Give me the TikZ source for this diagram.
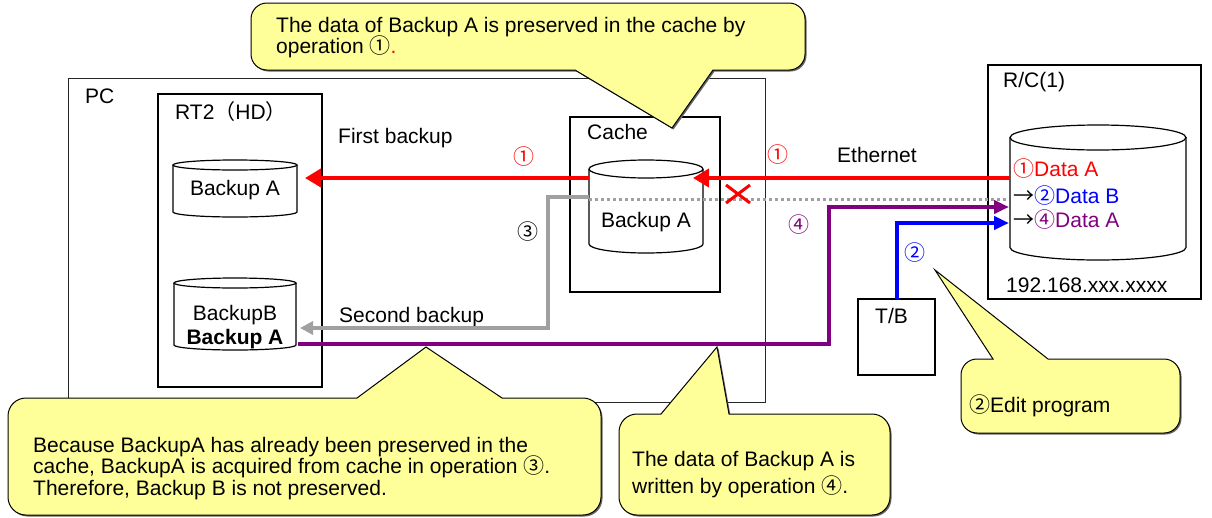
\documentclass[tikz,border=0pt]{standalone}
\usepackage{fontspec}
\setmainfont{Liberation Sans}
\newfontfamily\cjk{Noto Sans CJK JP}
\usetikzlibrary{arrows.meta}
\definecolor{cyel}{RGB}{255,255,153}
\definecolor{cpur}{RGB}{128,0,128}
\definecolor{cgray}{RGB}{160,160,160}
\newcommand\cd[1]{{\cjk #1}}
\newcommand\fs{\fontsize{21}{22}\selectfont}
% drum: x1 ytop x2 ybot ry (pixel units, y downwards)
\newcommand\drum[5]{%
  \draw[drumline,fill=white] (#1,{-#2-#5}) -- (#1,{-#4+#5}) arc[start angle=180,end angle=360,x radius={(#3-#1)/2},y radius=#5] -- (#3,{-#2-#5});
  \draw[drumline] ({(#1+#3)/2},{-#2-#5}) ellipse[x radius={(#3-#1)/2},y radius=#5];
}
% bubble with pointer from top edge: x1 y1 x2 y2 b1 b2 tx ty r
\newcommand\bubbleUp[9]{%
  \foreach \sh/\sty in {1.5/bubshadow,0/bubble}{%
    \path[\sty,shift={(\sh,-\sh)}] (#1+#9,-#2) -- (#5,-#2) -- (#7,-#8) -- (#6,-#2) -- (#3-#9,-#2)
      arc[start angle=90,end angle=0,radius=#9] -- (#3,-#4+#9)
      arc[start angle=0,end angle=-90,radius=#9] -- (#1+#9,-#4)
      arc[start angle=-90,end angle=-180,radius=#9] -- (#1,-#2-#9)
      arc[start angle=180,end angle=90,radius=#9] -- cycle;
  }%
}
% bubble with pointer from bottom edge
\newcommand\bubbleDown[9]{%
  \foreach \sh/\sty in {1.5/bubshadow,0/bubble}{%
    \path[\sty,shift={(\sh,-\sh)}] (#1+#9,-#2) -- (#3-#9,-#2)
      arc[start angle=90,end angle=0,radius=#9] -- (#3,-#4+#9)
      arc[start angle=0,end angle=-90,radius=#9] -- (#6,-#4) -- (#7,-#8) -- (#5,-#4) -- (#1+#9,-#4)
      arc[start angle=-90,end angle=-180,radius=#9] -- (#1,-#2-#9)
      arc[start angle=180,end angle=90,radius=#9] -- cycle;
  }%
}
\begin{document}
\begin{tikzpicture}[x=1pt,y=1pt,
  every node/.style={inner sep=0pt,font=\fs},
  boxline/.style={draw=black,line width=1.3pt},
  drumline/.style={draw=black,line width=1.2pt},
  bubble/.style={fill=cyel,draw=black,line width=1pt},
  bubshadow/.style={fill=black!60},
  redarrow/.style={draw=red,line width=4.5pt,-{Triangle[length=16pt,width=18pt]}},
  grayarrow/.style={draw=cgray,line width=3.5pt,-{Triangle[length=13pt,width=13pt]}},
  dotline/.style={draw=cgray,line width=3pt,dash pattern=on 3pt off 3pt},
  purarrow/.style={draw=cpur,line width=4pt,-{Triangle[length=15pt,width=13pt]}},
  bluearrow/.style={draw=blue,line width=4pt,-{Triangle[length=15pt,width=13pt]}},
  lbl/.style={anchor=base west},
  clbl/.style={anchor=base}]
\useasboundingbox[fill=white] (0,0) rectangle (1212,-517);

% PC
\draw[draw=black!85,line width=1pt] (68,-78) rectangle (765,-402);
\node[lbl] (pc) at (85,-103.5) {PC};

% RT2(HD)
\draw[boxline] (158,-94) rectangle (322,-387);
\node[lbl] (rt2) at (175,-119.5) {RT2\cd{（}HD\cd{）}};
\drum{173}{160}{297}{217}{5}
\node[clbl] (bkA) at (235,-195.5) {Backup A};
\drum{174}{278}{296}{350}{5}
\node[clbl] (bkB) at (235,-320.5) {BackupB};
\node[clbl,font=\fs\bfseries] (bkAb) at (235,-344.5) {Backup A};

\node[lbl] (fb) at (338,-143.5) {First backup};
\node[lbl] (sb) at (339,-322.5) {Second backup};

% Cache
\draw[boxline] (570,-117) rectangle (720,-292);
\node[lbl] (cache) at (587,-139.5) {Cache};
\drum{589}{160}{703}{253}{9}
\node[clbl] (cbk) at (646,-227.5) {Backup A};

% R/C(1)
\draw[boxline] (988,-65) rectangle (1201,-299);
\node[lbl] (rc) at (1003,-87.5) {R/C(1)};
\drum{1010}{125}{1186}{260}{12.5}
\node[lbl,text=red] (d1) at (1013,-176.5) {\cd{①}Data A};
\node[lbl] (d2) at (1013,-203.5) {\cd{→}\textcolor{blue}{\cd{②}Data B}};
\node[lbl] (d3) at (1013,-227.5) {\cd{→}\textcolor{cpur}{\cd{④}Data A}};
\node[lbl] (ip) at (1006,-292.5) {192.168.xxx.xxxx};

% T/B
\draw[boxline] (858,-299) rectangle (935,-375);
\node[lbl] (tb) at (875,-323.5) {T/B};

% connector end points
\coordinate (rcR) at (1010,-178);
\coordinate (cacheR) at (693,-178);
\coordinate (cacheL) at (589,-178);
\coordinate (hdA) at (305,-178);
\coordinate (cacheG) at (589,-197);
\coordinate (hdB) at (300,-328);
\coordinate (cacheD) at (589,-199);
\coordinate (rcD) at (1008,-199);
\coordinate (hdP) at (298,-344);
\coordinate (rcP) at (1009,-207);
\coordinate (tbT) at (897,-299);
\coordinate (rcB) at (1009,-223);
\coordinate (xmark) at (738,-194);

% connectors
\draw[dotline] (cacheD) -- (rcD);
\draw[redarrow] (rcR) -- (cacheR);
\draw[redarrow] (cacheL) -- (hdA);
\draw[grayarrow] (cacheG) -- ++(-41,0) |- (hdB);
\draw[purarrow] (hdP) -| (829,-207) -- (rcP);
\draw[bluearrow] (tbT) |- (rcB);
\draw[red,line width=3pt,shift={(xmark)}] (-12,9) -- (12,-9) (-12,-9) -- (12,9);

% labels
\node[clbl,text=red] (o1a) at (524,-164.5) {\cd{①}};
\node[clbl,text=red] (o1b) at (778,-162.5) {\cd{①}};
\node[lbl] (eth) at (837,-162.5) {Ethernet};
\node[clbl] (o3) at (528,-239.5) {\cd{③}};
\node[clbl,text=cpur] (o4) at (799,-232.5) {\cd{④}};
\node[clbl,text=blue] (o2) at (915,-260.5) {\cd{②}};

% callouts
\bubbleDown{251}{3}{805}{70}{575}{713}{672}{128}{16}
\node[lbl] (t1) at (276,-32) {The data of Backup A is preserved in the cache by};
\node[lbl] (t2) at (276,-53) {operation \cd{①}\textcolor{red}{.}};

\bubbleUp{8}{398}{601}{515}{357}{502}{426}{347}{18}
\node[lbl] (b1) at (33,-452) {Because BackupA has already been preserved in the};
\node[lbl] (b2) at (33,-473) {cache, BackupA is acquired from cache in operation \cd{③}.};
\node[lbl] (b3) at (33,-495) {Therefore, Backup B is not preserved.};

\bubbleUp{619}{414}{890}{515}{661}{729}{717}{347}{18}
\node[lbl] (m1) at (632,-466) {The data of Backup A is};
\node[lbl] (m2) at (632,-493) {written by operation \cd{④}.};

\bubbleUp{961}{359}{1180}{433}{993}{1048}{935}{270}{16}
\node[lbl] (r1) at (969,-412) {\cd{②}Edit program};
\end{tikzpicture}
\end{document}
